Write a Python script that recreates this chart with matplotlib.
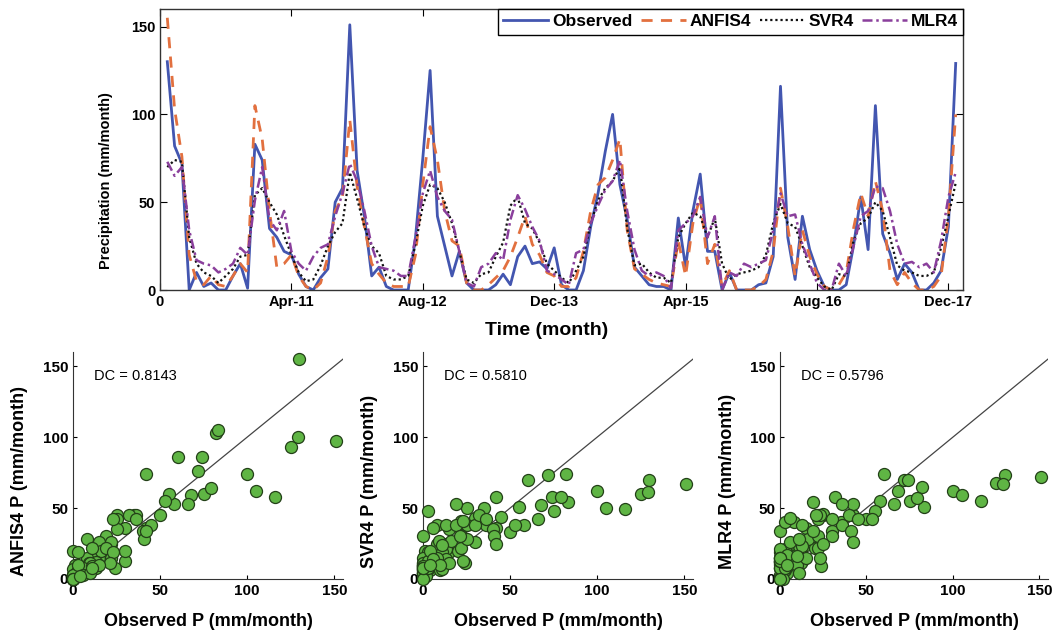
import numpy as np
import matplotlib
matplotlib.use("Agg")
import matplotlib.pyplot as plt

plt.rcParams['font.family'] = ['Liberation Sans', 'DejaVu Sans']

observed = [130, 82, 72, 0, 10, 2, 4, 0, 0, 8, 15, 1, 83, 74, 35, 30, 22, 20, 9, 2,
            0, 7, 12, 50, 58, 151, 68, 42, 8, 13, 2, 0, 0, 0, 30, 75, 125, 42, 25, 8,
            22, 4, 0, 0, 0, 3, 9, 3, 19, 25, 15, 16, 12, 24, 3, 0, 0, 11, 36, 55,
            79, 100, 60, 40, 13, 8, 3, 2, 2, 0, 41, 13, 45, 66, 22, 22, 0, 10, 0, 0,
            0, 3, 4, 19, 116, 30, 6, 42, 23, 11, 2, 0, 0, 3, 25, 53, 23, 105, 32, 21,
            6, 15, 10, 0, 0, 4, 11, 36, 129]
anfis4 = [155, 103, 76, 20, 5, 3, 8, 3, 2, 8, 15, 10, 105, 86, 45, 13, 15, 20, 8, 2,
          0, 4, 19, 45, 53, 97, 59, 36, 15, 9, 4, 2, 2, 2, 20, 60, 93, 74, 45, 28,
          25, 4, 0, 0, 3, 7, 11, 19, 30, 42, 26, 20, 10, 8, 2, 2, 7, 22, 45, 60,
          64, 74, 86, 34, 12, 9, 6, 4, 3, 2, 28, 8, 38, 53, 15, 26, 2, 11, 0, 0,
          0, 2, 6, 22, 58, 36, 8, 34, 19, 9, 2, 0, 3, 10, 35, 55, 42, 62, 45, 11,
          3, 10, 4, 0, 0, 2, 8, 42, 100]
svr4 = [70, 74, 73, 30, 15, 10, 8, 4, 8, 12, 19, 20, 54, 58, 50, 43, 31, 20, 10, 5,
        6, 14, 25, 33, 38, 67, 52, 36, 25, 21, 8, 6, 6, 8, 26, 48, 60, 58, 50, 38,
        22, 6, 4, 9, 10, 19, 27, 48, 53, 38, 35, 27, 15, 11, 7, 4, 11, 19, 38, 51,
        58, 62, 70, 35, 14, 15, 10, 7, 7, 4, 30, 38, 44, 42, 30, 41, 15, 6, 9, 10,
        11, 13, 20, 38, 49, 38, 36, 25, 13, 7, 2, 0, 9, 8, 28, 38, 41, 50, 45, 30,
        14, 11, 10, 8, 8, 10, 24, 42, 61]
mlr4 = [73, 65, 70, 34, 17, 15, 14, 10, 12, 15, 24, 20, 51, 70, 40, 34, 45, 22, 15, 11,
        19, 24, 26, 42, 55, 72, 62, 45, 25, 13, 12, 11, 8, 8, 30, 55, 68, 53, 45, 40,
        22, 4, 2, 13, 15, 21, 17, 40, 54, 46, 36, 28, 11, 9, 6, 3, 21, 23, 38, 48,
        57, 62, 74, 45, 23, 11, 8, 10, 8, 1, 34, 38, 42, 53, 30, 42, 0, 10, 8, 15,
        13, 15, 17, 34, 55, 42, 43, 26, 15, 4, 0, 0, 15, 8, 25, 42, 45, 59, 58, 45,
        26, 15, 16, 13, 15, 10, 28, 53, 67]

tick_pos = [0, 18, 36, 54, 72, 90, 108]
tick_labels = ['0', 'Apr-11', 'Aug-12', 'Dec-13', 'Apr-15', 'Aug-16', 'Dec-17']

models = ['ANFIS4', 'SVR4', 'MLR4']
dc_values = ['0.8143', '0.5810', '0.5796']

W, H = 1055, 637
fig = plt.figure(figsize=(W / 100, H / 100), dpi=100)

def frac(l, r, t, b):
    return [l / W, 1 - b / H, (r - l) / W, (b - t) / H]

c_obs = '#4356b0'
c_anfis = '#e2703f'
c_svr = '#111111'
c_mlr = '#8a3f9c'

ax = fig.add_axes(frac(160, 963, 9, 290))
t = np.arange(1, len(observed) + 1)
ax.plot(t, observed, color=c_obs, lw=2.0, label='Observed')
ax.plot(t, anfis4, color=c_anfis, lw=2.0, ls=(0, (4, 3)), label='ANFIS4')
ax.plot(t, svr4, color=c_svr, lw=1.6, ls=(0, (1, 1.3)), label='SVR4')
ax.plot(t, mlr4, color=c_mlr, lw=1.8, ls=(0, (4, 1.5, 1, 1.5)), label='MLR4')
ax.set_xlim(0, 110)
ax.set_ylim(0, 160)
ax.set_xticks(tick_pos)
ax.set_xticklabels(tick_labels)
ax.set_yticks([0, 50, 100, 150])
ax.tick_params(direction='in', top=True, right=True, length=5, labelsize=10.5)
for lab in ax.get_xticklabels() + ax.get_yticklabels():
    lab.set_fontweight('bold')
ax.set_xlabel('Time (month)', fontsize=14, fontweight='bold')
ax.xaxis.set_label_coords(0.482, -0.115)
ax.set_ylabel('Precipitation (mm/month)', fontsize=10.5, fontweight='bold')
ax.yaxis.set_label_coords(-0.058, 0.39)
for s in ax.spines.values():
    s.set_linewidth(1.0)
    s.set_color('#333333')
leg = ax.legend(ncol=4, loc='upper right', borderaxespad=0, fancybox=False,
                framealpha=1, edgecolor='black', handlelength=2.6, handletextpad=0.2,
                columnspacing=0.5, borderpad=0.3,
                prop={'weight': 'bold', 'size': 12.5})
leg.get_frame().set_linewidth(1.0)

preds = [anfis4, svr4, mlr4]
boxes = [(73, 343), (423, 693), (780, 1048)]
for (l, r), name, pred, dc in zip(boxes, models, preds, dc_values):
    a = fig.add_axes(frac(l, r, 352, 579))
    a.plot([0, 155], [0, 155], color='#444444', lw=0.9, zorder=1)
    a.scatter(observed, pred, s=75, c='#5fb544', edgecolors='#234018',
              linewidths=0.9, zorder=3, clip_on=False)
    a.set_xlim(0, 155)
    a.set_ylim(0, 160)
    a.set_xticks([0, 50, 100, 150])
    a.set_yticks([0, 50, 100, 150])
    a.spines['top'].set_visible(False)
    a.spines['right'].set_visible(False)
    for s in ('left', 'bottom'):
        a.spines[s].set_color('#333333')
    a.tick_params(direction='in', length=3, labelsize=11)
    for lab in a.get_xticklabels() + a.get_yticklabels():
        lab.set_fontweight('bold')
    a.set_xlabel('Observed P (mm/month)', fontsize=13, fontweight='bold')
    a.xaxis.set_label_coords(0.5, -0.15)
    a.set_ylabel(f'{name} P (mm/month)', fontsize=13, fontweight='bold')
    a.yaxis.set_label_coords(-0.165, 0.43)
    a.text(12, 140, f'DC = {dc}', fontsize=10.5)

fig.savefig('out.png', dpi=100)
